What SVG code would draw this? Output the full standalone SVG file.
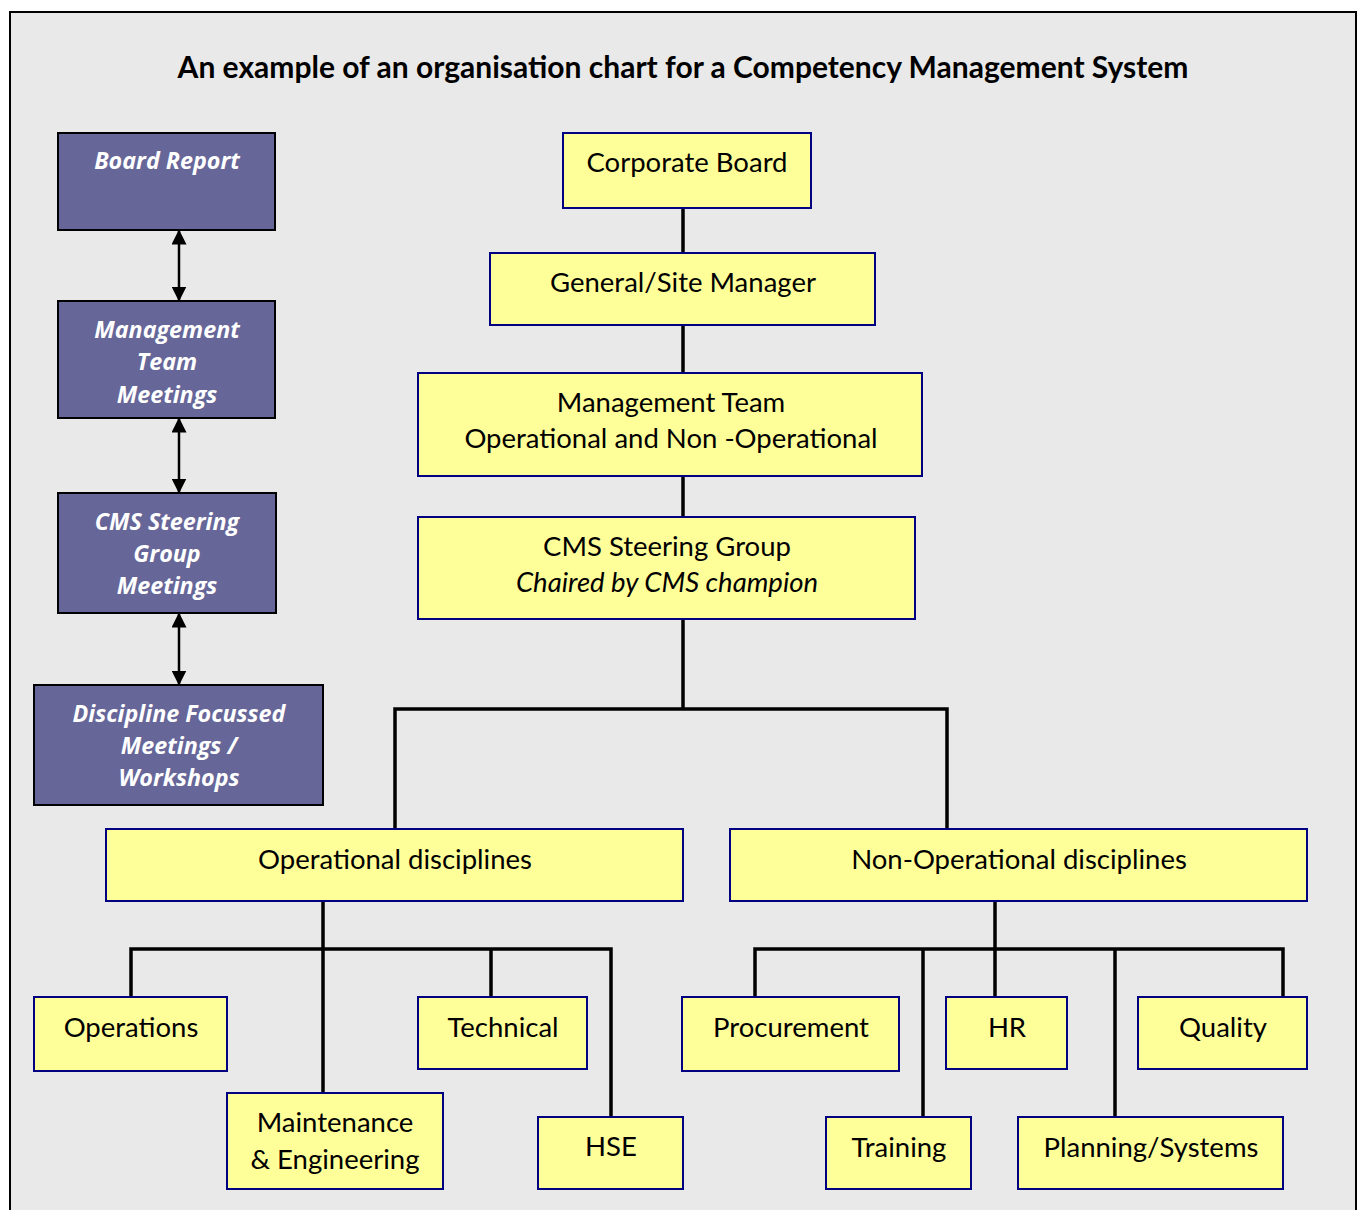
<svg xmlns="http://www.w3.org/2000/svg" width="1363" height="1210" viewBox="0 0 1363 1210">
  <defs>
    <style>
      .frame { fill: #e9e9e9; stroke: #000; stroke-width: 2; }
      .meet { fill: #666699; stroke: #000; stroke-width: 2; }
      .unit { fill: #ffff99; stroke: #000080; stroke-width: 2; }
      .wire { fill: none; stroke: #000; stroke-width: 3.5; }
      .link { fill: none; stroke: #000; stroke-width: 2.5; }
      .title { font-family: Lato, "Liberation Sans", sans-serif; font-weight: bold; font-size: 30px; fill: #000; text-anchor: middle; }
      .mt { font-family: "Open Sans", "Liberation Sans", sans-serif; font-weight: bold; font-style: italic; font-size: 23.3px; fill: #fff; text-anchor: middle; }
      .ut { font-family: Lato, "Liberation Sans", sans-serif; font-size: 27.5px; fill: #000; text-anchor: middle; }
      .it { font-style: italic; }
    </style>
    <marker id="tip" viewBox="0 0 10 10" refX="9" refY="5" markerWidth="6" markerHeight="6" markerUnits="strokeWidth" orient="auto-start-reverse">
      <path d="M0,0 L10,5 L0,10 z" fill="#000"/>
    </marker>
  </defs>

  <rect width="1363" height="1210" fill="#fff"/>
  <rect class="frame" x="10" y="12" width="1346" height="1210"/>

  <text class="title" x="683" y="78">An example of an organisation chart for a Competency Management System</text>

  <g id="connectors">
    <!-- meeting chain, two-way links -->
    <line class="link" x1="179" y1="231" x2="179" y2="300" marker-start="url(#tip)" marker-end="url(#tip)"/>
    <line class="link" x1="179" y1="419" x2="179" y2="492" marker-start="url(#tip)" marker-end="url(#tip)"/>
    <line class="link" x1="179" y1="614" x2="179" y2="684" marker-start="url(#tip)" marker-end="url(#tip)"/>

    <!-- main spine -->
    <line class="wire" x1="683" y1="208" x2="683" y2="253"/>
    <line class="wire" x1="683" y1="325" x2="683" y2="373"/>
    <line class="wire" x1="683" y1="476" x2="683" y2="517"/>
    <line class="wire" x1="683" y1="619" x2="683" y2="709"/>
    <path class="wire" d="M395,829 V709 H947 V829"/>

    <!-- operational branch -->
    <line class="wire" x1="323" y1="901" x2="323" y2="1093"/>
    <path class="wire" d="M131,997 V949 H611 V1117"/>
    <line class="wire" x1="491" y1="949" x2="491" y2="997"/>

    <!-- non-operational branch -->
    <line class="wire" x1="995" y1="901" x2="995" y2="997"/>
    <path class="wire" d="M755,997 V949 H1283 V997"/>
    <line class="wire" x1="923" y1="949" x2="923" y2="1117"/>
    <line class="wire" x1="1115" y1="949" x2="1115" y2="1117"/>
  </g>

  <!-- meeting boxes -->
  <g id="board-report">
    <rect class="meet" x="58" y="133" width="217" height="97"/>
    <text class="mt" x="167" y="169">Board Report</text>
  </g>
  <g id="management-meetings">
    <rect class="meet" x="58" y="301" width="217" height="117"/>
    <text class="mt" x="167" y="338">Management</text>
    <text class="mt" x="167" y="370">Team</text>
    <text class="mt" x="167" y="403">Meetings</text>
  </g>
  <g id="steering-meetings">
    <rect class="meet" x="58" y="493" width="218" height="120"/>
    <text class="mt" x="167" y="530">CMS Steering</text>
    <text class="mt" x="167" y="562">Group</text>
    <text class="mt" x="167" y="594">Meetings</text>
  </g>
  <g id="discipline-meetings">
    <rect class="meet" x="34" y="685" width="289" height="120"/>
    <text class="mt" x="179" y="722">Discipline Focussed</text>
    <text class="mt" x="179" y="754">Meetings /</text>
    <text class="mt" x="179" y="786">Workshops</text>
  </g>

  <!-- hierarchy boxes -->
  <g id="corporate-board">
    <rect class="unit" x="563" y="133" width="248" height="75"/>
    <text class="ut" x="687" y="172">Corporate Board</text>
  </g>
  <g id="general-manager">
    <rect class="unit" x="490" y="253" width="385" height="72"/>
    <text class="ut" x="683" y="292">General/Site Manager</text>
  </g>
  <g id="management-team">
    <rect class="unit" x="418" y="373" width="504" height="103"/>
    <text class="ut" x="671" y="412">Management Team</text>
    <text class="ut" x="671" y="448">Operational and Non -Operational</text>
  </g>
  <g id="steering-group">
    <rect class="unit" x="418" y="517" width="497" height="102"/>
    <text class="ut" x="667" y="556">CMS Steering Group</text>
    <text class="ut it" x="667" y="592">Chaired by CMS champion</text>
  </g>
  <g id="operational">
    <rect class="unit" x="106" y="829" width="577" height="72"/>
    <text class="ut" x="395" y="869">Operational disciplines</text>
  </g>
  <g id="non-operational">
    <rect class="unit" x="730" y="829" width="577" height="72"/>
    <text class="ut" x="1019" y="869">Non-Operational disciplines</text>
  </g>

  <g id="operations">
    <rect class="unit" x="34" y="997" width="193" height="74"/>
    <text class="ut" x="131" y="1037">Operations</text>
  </g>
  <g id="maintenance">
    <rect class="unit" x="227" y="1093" width="216" height="96"/>
    <text class="ut" x="335" y="1132">Maintenance</text>
    <text class="ut" x="335" y="1169">&amp; Engineering</text>
  </g>
  <g id="technical">
    <rect class="unit" x="418" y="997" width="169" height="72"/>
    <text class="ut" x="503" y="1037">Technical</text>
  </g>
  <g id="hse">
    <rect class="unit" x="538" y="1117" width="145" height="72"/>
    <text class="ut" x="611" y="1156">HSE</text>
  </g>

  <g id="procurement">
    <rect class="unit" x="682" y="997" width="217" height="74"/>
    <text class="ut" x="791" y="1037">Procurement</text>
  </g>
  <g id="hr">
    <rect class="unit" x="946" y="997" width="121" height="72"/>
    <text class="ut" x="1007" y="1037">HR</text>
  </g>
  <g id="quality">
    <rect class="unit" x="1138" y="997" width="169" height="72"/>
    <text class="ut" x="1223" y="1037">Quality</text>
  </g>
  <g id="training">
    <rect class="unit" x="826" y="1117" width="145" height="72"/>
    <text class="ut" x="899" y="1157">Training</text>
  </g>
  <g id="planning">
    <rect class="unit" x="1018" y="1117" width="265" height="72"/>
    <text class="ut" x="1151" y="1157">Planning/Systems</text>
  </g>
</svg>
